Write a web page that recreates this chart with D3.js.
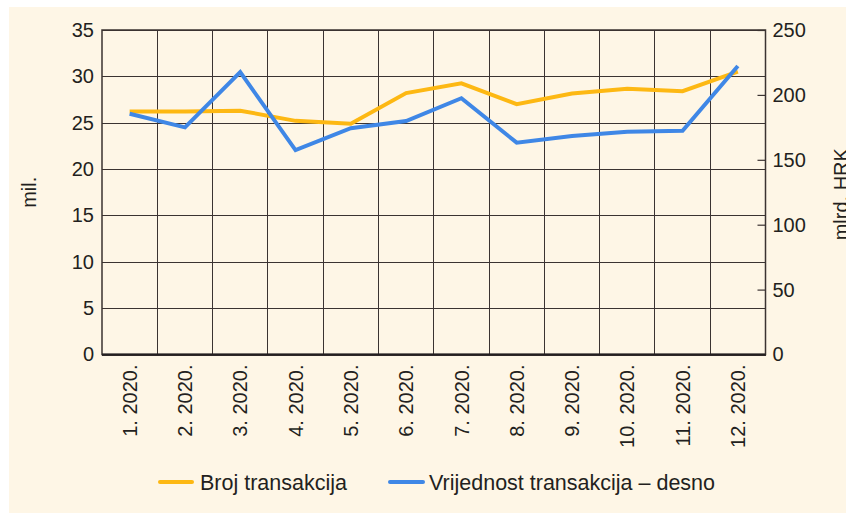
<!DOCTYPE html>
<html><head><meta charset="utf-8">
<script src="https://cdn.jsdelivr.net/npm/d3@7"></script>
<style>
html,body{margin:0;padding:0;background:#fff;}
svg{display:block;font-family:"Liberation Sans",Arial,Helvetica,sans-serif;}
</style></head>
<body><svg id="c" width="846" height="513"></svg>
<script>
const months = ["1. 2020.","2. 2020.","3. 2020.","4. 2020.","5. 2020.","6. 2020.","7. 2020.","8. 2020.","9. 2020.","10. 2020.","11. 2020.","12. 2020."];
const brojTransakcija = [26.2, 26.2, 26.3, 25.2, 24.9, 28.2, 29.25, 27.0, 28.15, 28.65, 28.4, 30.5];
const vrijednostTransakcija = [185.5, 175, 217.5, 157.5, 174.3, 179.9, 197.4, 163.2, 168.3, 171.6, 172.4, 222.3];
const leftTicks = [0,5,10,15,20,25,30,35];
const rightTicks = [0,50,100,150,200,250];
const seriesNames = ["Broj transakcija","Vrijednost transakcija – desno"];
const leftTitle = "mil.";
const rightTitle = "mlrd. HRK";

const W=846,H=513;
const m={l:102,r:765.5,t:30,b:354.5};
const colY="#FDB813", colB="#3F87E6", ink="#231f20", grid="#3b3331";
const svg=d3.select("#c");
svg.append("rect").attr("x",9).attr("y",7).attr("width",W-9).attr("height",H-7).attr("fill","#FEF6E6");

const x=d3.scaleBand().domain(months).range([m.l,m.r]).padding(0);
const yL=d3.scaleLinear().domain([0,35]).range([m.b,m.t]);
const yR=d3.scaleLinear().domain([0,250]).range([m.b,m.t]);

// horizontal gridlines (left axis)
const gL=svg.append("g").attr("transform",`translate(${m.l},0)`)
  .call(d3.axisLeft(yL).tickValues(leftTicks).tickSize(-(m.r-m.l)).tickPadding(8).tickFormat(d3.format("d")));
gL.select(".domain").remove();
gL.selectAll(".tick line").attr("stroke",grid).attr("stroke-width",1).attr("shape-rendering","crispEdges");
gL.selectAll(".tick text").attr("fill",ink).attr("font-size",20).attr("font-family","Liberation Sans, Arial, sans-serif");

// vertical gridlines at band boundaries
const bounds=months.map(d=>x(d)).slice(1);
svg.append("g").selectAll("line").data(bounds).join("line")
  .attr("x1",d=>d).attr("x2",d=>d).attr("y1",m.t).attr("y2",m.b)
  .attr("stroke",grid).attr("stroke-width",1).attr("shape-rendering","crispEdges");

// bottom axis labels
const gB=svg.append("g").attr("transform",`translate(0,${m.b})`)
  .call(d3.axisBottom(x).tickSize(0).tickPadding(0));
gB.select(".domain").remove();
gB.selectAll(".tick text").attr("fill",ink).attr("font-size",20).attr("font-family","Liberation Sans, Arial, sans-serif")
  .attr("text-anchor","end").attr("transform","rotate(-90)").attr("x",-10).attr("y",0).attr("dy","0.36em");

// right axis
const gR=svg.append("g").attr("transform",`translate(${m.r},0)`)
  .call(d3.axisRight(yR).tickValues(rightTicks).tickSizeInner(-8).tickSizeOuter(0).tickPadding(7).tickFormat(d3.format("d")));
gR.select(".domain").remove();
gR.selectAll(".tick line").attr("stroke",grid).attr("stroke-width",1.2);
gR.selectAll(".tick text").attr("fill",ink).attr("font-size",20).attr("font-family","Liberation Sans, Arial, sans-serif");

// frame
svg.append("rect").attr("x",m.l).attr("y",m.t).attr("width",m.r-m.l).attr("height",m.b-m.t)
  .attr("fill","none").attr("stroke",grid).attr("stroke-width",1.5);
svg.append("line").attr("x1",m.l).attr("x2",m.r).attr("y1",m.b).attr("y2",m.b).attr("stroke",ink).attr("stroke-width",2);

// lines
const cx=d=>x(d)+x.bandwidth()/2;
const lineL=d3.line().x((d,i)=>cx(months[i])).y(d=>yL(d));
const lineR=d3.line().x((d,i)=>cx(months[i])).y(d=>yR(d));
svg.append("path").datum(brojTransakcija).attr("d",lineL).attr("fill","none").attr("stroke",colY).attr("stroke-width",4).attr("stroke-linejoin","miter");
svg.append("path").datum(vrijednostTransakcija).attr("d",lineR).attr("fill","none").attr("stroke",colB).attr("stroke-width",4).attr("stroke-linejoin","miter");

// axis titles
const midY=(m.t+m.b)/2;
svg.append("text").attr("transform",`translate(36,${midY}) rotate(-90)`).attr("text-anchor","middle")
  .attr("font-size",20).attr("fill",ink).text(leftTitle);
svg.append("text").attr("transform",`translate(848,${midY+2}) rotate(-90)`).attr("text-anchor","middle")
  .attr("font-size",20).attr("fill",ink).text(rightTitle);

// legend
const leg=[{n:seriesNames[0],c:colY,x1:160,x2:192,tx:200},{n:seriesNames[1],c:colB,x1:390,x2:423,tx:429}];
const lg=svg.append("g");
leg.forEach(d=>{
  lg.append("line").attr("x1",d.x1).attr("x2",d.x2).attr("y1",482).attr("y2",482).attr("stroke",d.c).attr("stroke-width",4).attr("stroke-linecap","round");
  lg.append("text").attr("x",d.tx).attr("y",490).attr("font-size",21.5).attr("fill",ink).text(d.n);
});
</script></body></html>
